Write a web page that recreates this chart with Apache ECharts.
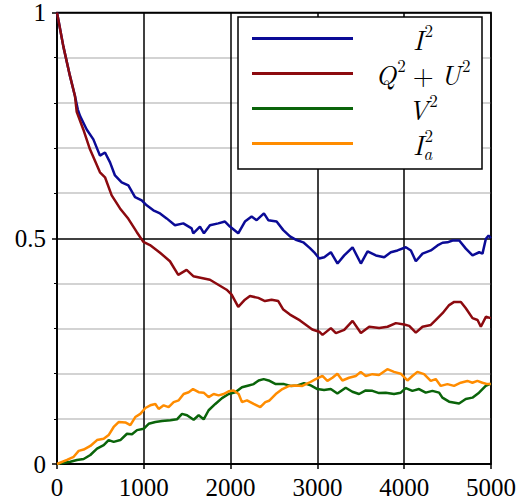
<!DOCTYPE html>
<html>
<head>
<meta charset="utf-8">
<script src="https://cdn.jsdelivr.net/npm/echarts@6/dist/echarts.min.js"></script>
<style>
  html, body { margin: 0; padding: 0; background: #fff; }
  #chart { width: 519px; height: 504px; }
</style>
</head>
<body>
<div id="chart"></div>
<script>
// ---- data ----
const seriesNames = ['I2', 'QU', 'V2', 'Ia2'];

const iSquared = [[0,1.0],[73,0.925],[150,0.859],[207,0.815],[240,0.785],[265,0.771],[342,0.741],[419,0.719],[495,0.683],[553,0.690],[611,0.668],[668,0.639],[745,0.624],[822,0.617],[899,0.591],[976,0.584],[1033,0.573],[1110,0.562],[1187,0.555],[1263,0.544],[1359,0.529],[1455,0.533],[1551,0.522],[1570,0.511],[1647,0.526],[1693,0.511],[1762,0.529],[1858,0.533],[1935,0.537],[1992,0.526],[2088,0.511],[2165,0.537],[2242,0.548],[2300,0.540],[2384,0.555],[2434,0.540],[2530,0.537],[2607,0.518],[2684,0.504],[2760,0.496],[2837,0.491],[2914,0.478],[2972,0.467],[3021,0.455],[3079,0.458],[3155,0.469],[3232,0.444],[3309,0.462],[3405,0.480],[3501,0.444],[3578,0.471],[3674,0.462],[3770,0.458],[3846,0.469],[3923,0.473],[4019,0.480],[4077,0.473],[4134,0.449],[4211,0.466],[4307,0.473],[4384,0.484],[4442,0.490],[4499,0.491],[4557,0.495],[4634,0.495],[4710,0.477],[4787,0.462],[4864,0.469],[4902,0.466],[4941,0.499],[4972,0.506],[4998,0.500]];

const qPlusU = [[0,1.0],[73,0.925],[150,0.859],[207,0.815],[227,0.780],[303,0.741],[380,0.697],[495,0.646],[553,0.635],[630,0.595],[726,0.566],[822,0.543],[918,0.514],[995,0.492],[1071,0.485],[1187,0.468],[1301,0.449],[1397,0.419],[1493,0.430],[1570,0.416],[1666,0.412],[1762,0.408],[1858,0.397],[1954,0.386],[2012,0.375],[2088,0.348],[2165,0.364],[2223,0.372],[2319,0.368],[2396,0.361],[2472,0.364],[2549,0.361],[2607,0.342],[2684,0.331],[2799,0.318],[2941,0.298],[3021,0.293],[3059,0.286],[3155,0.301],[3213,0.290],[3309,0.297],[3405,0.317],[3501,0.290],[3597,0.304],[3712,0.301],[3808,0.304],[3904,0.312],[4000,0.309],[4058,0.306],[4134,0.291],[4211,0.304],[4307,0.308],[4365,0.319],[4442,0.334],[4518,0.352],[4576,0.359],[4653,0.359],[4710,0.345],[4787,0.323],[4845,0.319],[4883,0.304],[4941,0.326],[4998,0.323]];

const vSquared = [[0,0],[154,0.005],[230,0.009],[307,0.011],[384,0.020],[461,0.034],[538,0.042],[595,0.053],[653,0.049],[730,0.053],[806,0.067],[864,0.066],[922,0.075],[998,0.078],[1056,0.089],[1133,0.093],[1210,0.095],[1306,0.097],[1382,0.099],[1440,0.111],[1498,0.108],[1574,0.098],[1632,0.108],[1690,0.099],[1747,0.119],[1824,0.133],[1901,0.146],[1978,0.155],[2054,0.159],[2131,0.170],[2208,0.174],[2266,0.177],[2323,0.185],[2381,0.188],[2438,0.185],[2520,0.177],[2616,0.177],[2693,0.173],[2770,0.174],[2846,0.179],[2923,0.174],[3000,0.166],[3077,0.164],[3154,0.166],[3230,0.156],[3326,0.169],[3403,0.160],[3480,0.155],[3557,0.163],[3634,0.162],[3710,0.157],[3787,0.158],[3883,0.155],[3960,0.158],[4018,0.168],[4094,0.162],[4171,0.166],[4248,0.158],[4325,0.162],[4402,0.158],[4440,0.147],[4517,0.138],[4632,0.134],[4709,0.144],[4786,0.147],[4862,0.158],[4939,0.173],[4998,0.178]];

const iaSquared = [[0,0],[115,0.009],[192,0.016],[250,0.029],[307,0.032],[384,0.040],[461,0.053],[538,0.056],[595,0.064],[653,0.082],[710,0.093],[787,0.092],[845,0.086],[902,0.104],[960,0.111],[1018,0.124],[1075,0.130],[1133,0.133],[1171,0.122],[1229,0.130],[1286,0.126],[1344,0.137],[1402,0.141],[1459,0.155],[1517,0.159],[1567,0.166],[1632,0.159],[1690,0.158],[1747,0.148],[1805,0.155],[1862,0.152],[1920,0.155],[1978,0.161],[2035,0.163],[2093,0.155],[2131,0.137],[2189,0.141],[2266,0.133],[2342,0.126],[2400,0.137],[2443,0.140],[2520,0.155],[2597,0.166],[2674,0.173],[2750,0.174],[2827,0.173],[2904,0.180],[2981,0.188],[3058,0.195],[3115,0.184],[3173,0.191],[3230,0.200],[3288,0.185],[3365,0.191],[3442,0.195],[3499,0.204],[3557,0.195],[3634,0.199],[3710,0.197],[3806,0.210],[3883,0.204],[3960,0.200],[4037,0.185],[4094,0.195],[4152,0.204],[4229,0.199],[4306,0.184],[4363,0.188],[4421,0.173],[4498,0.177],[4574,0.173],[4651,0.180],[4728,0.184],[4786,0.180],[4843,0.184],[4901,0.180],[4958,0.177],[4998,0.177]];

const xTicks = [0, 1000, 2000, 3000, 4000, 5000];
const yTicks = [0, 0.5, 1];

// ---- chart ----
const colors = ['#0b0b96', '#8c0a0f', '#0a640a', '#ff8c00'];
const serif = 'Liberation Serif';
const mathFont = 'Latin Modern Roman';
// legend label pieces: [styleName, text]
const legendParts = {
  I2: [['m', 'I'], ['s', '2']],
  QU: [['m', 'Q'], ['s', '2'], ['r', '+'], ['m', 'U'], ['s', '2']],
  V2: [['m', 'V'], ['s', '2']],
  Ia2: [['m', 'I'], ['b', 'a'], ['s', '2']]
};
const richStyles = {
  m: { fontFamily: mathFont, fontStyle: 'italic', fontSize: 27, lineHeight: 35, color: '#000' },
  r: { fontFamily: mathFont, fontSize: 27, lineHeight: 35, color: '#000', padding: [0, 7, 0, 7] },
  s: { fontFamily: mathFont, fontSize: 17, lineHeight: 17, verticalAlign: 'top', color: '#000', padding: [0, 0, 0, 1] },
  b: { fontFamily: mathFont, fontStyle: 'italic', fontSize: 17, lineHeight: 17, verticalAlign: 'bottom', width: 0.1, color: '#000' }
};
const labelBox = 122;
const measureCtx = document.createElement('canvas').getContext('2d');
function tokenWidth(style, text) {
  const st = richStyles[style];
  if (st.width != null) return st.width;
  measureCtx.font = (st.fontStyle || 'normal') + ' ' + st.fontSize + 'px "' + st.fontFamily + '"';
  const pad = st.padding ? st.padding[1] + st.padding[3] : 0;
  return measureCtx.measureText(text).width + pad;
}
const richAll = Object.assign({}, richStyles);
seriesNames.forEach(name => {
  let w = 0;
  legendParts[name].forEach(p => { w += tokenWidth(p[0], p[1]); });
  const pre = Math.max(0.1, (labelBox - w) / 2 + 4);
  const post = Math.max(0.1, labelBox - w - pre);
  richAll['pre' + name] = { width: pre, lineHeight: 35 };
  richAll['post' + name] = { width: post, lineHeight: 35 };
});
function legendFormatter(name) {
  return '{pre' + name + '|}' + legendParts[name].map(p => '{' + p[0] + '|' + p[1] + '}').join('') + '{post' + name + '|}';
}

const chart = echarts.init(document.getElementById('chart'), null, { renderer: 'svg' });
const datasets = [iSquared, qPlusU, vSquared, iaSquared];

chart.setOption({
  animation: false,
  backgroundColor: '#fff',
  textStyle: { fontFamily: serif },
  grid: { left: 57, right: 28, top: 9, bottom: 40, show: true, borderColor: '#000', borderWidth: 1.5, backgroundColor: 'transparent' },
  xAxis: {
    type: 'value', min: xTicks[0], max: xTicks[xTicks.length - 1], interval: 1000,
    axisLine: { show: true, lineStyle: { color: '#000', width: 1.5 } },
    axisTick: { show: true, length: 5, lineStyle: { color: '#000', width: 1.5 } },
    axisLabel: { color: '#000', fontFamily: serif, fontSize: 25, margin: 11, formatter: v => String(v) },
    splitLine: { show: true, lineStyle: { color: '#000', width: 1.5 } }
  },
  yAxis: {
    type: 'value', min: yTicks[0], max: yTicks[yTicks.length - 1], interval: 0.5,
    axisLine: { show: true, lineStyle: { color: '#000', width: 1.5 } },
    axisTick: { show: true, length: 5, lineStyle: { color: '#000', width: 1.5 } },
    minorTick: { show: true, splitNumber: 5, length: 3, lineStyle: { color: '#000', width: 1 } },
    minorSplitLine: { show: true, lineStyle: { color: '#c4c4c4', width: 1.5 } },
    axisLabel: { color: '#000', fontFamily: serif, fontSize: 25, margin: 11, padding: [8, 0, 0, 0], formatter: v => String(v) },
    splitLine: { show: true, lineStyle: { color: '#000', width: 1.5 } }
  },
  legend: {
    show: true,
    orient: 'vertical',
    left: 238, top: 17,
    padding: [4, 2, 8, 14],
    itemGap: 0,
    itemWidth: 101, itemHeight: 3,
    icon: 'rect',
    backgroundColor: '#fff',
    borderColor: '#000', borderWidth: 1.5, borderRadius: 0,
    data: seriesNames,
    formatter: legendFormatter,
    textStyle: { color: '#000', fontFamily: mathFont, fontSize: 27, lineHeight: 35, rich: richAll }
  },
  series: seriesNames.map((n, i) => ({
    name: n, type: 'line', data: datasets[i], showSymbol: false, symbol: 'none',
    color: colors[i],
    lineStyle: { color: colors[i], width: 2.5 },
    z: 3
  }))
});
</script>
</body>
</html>
